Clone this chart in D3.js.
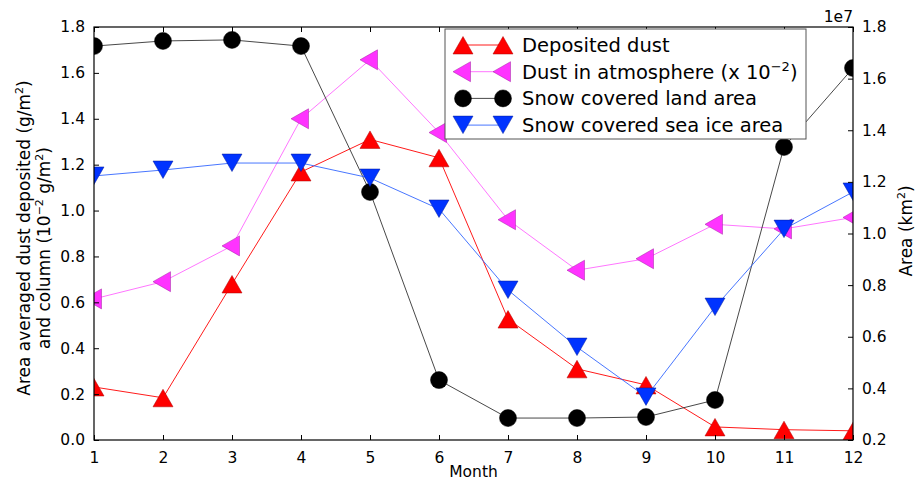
<!DOCTYPE html>
<html>
<head>
<meta charset="utf-8">
<script src="https://cdn.jsdelivr.net/npm/d3@7"></script>
<style>
body{margin:0;background:#fff}
svg{font-family:"DejaVu Sans",sans-serif}
</style>
</head>
<body>
<svg id="chart" width="922" height="482"></svg>
<script>
// months along x
var months = [1,2,3,4,5,6,7,8,9,10,11,12]
// left axis series
var deposited = [0.231,0.184,0.68,1.168,1.31,1.23,0.527,0.31,0.24,0.057,0.045,0.04]
var atmosphere = [0.615,0.69,0.846,1.40,1.657,1.34,0.96,0.74,0.79,0.94,0.92,0.97]
// right axis series (x 1e7 km2)
var landSnow = [1.726,1.746,1.75,1.726,1.161,0.432,0.285,0.285,0.289,0.355,1.335,1.641]
var seaIce = [1.223,1.246,1.273,1.273,1.215,1.095,0.781,0.56,0.367,0.715,1.017,1.161]
var leftTicks = [0.0,0.2,0.4,0.6,0.8,1.0,1.2,1.4,1.6,1.8]
var rightTicks = [0.2,0.4,0.6,0.8,1.0,1.2,1.4,1.6,1.8]

var svg = d3.select('#chart')
var L = 94, R = 853, T = 27, B = 440

var x = d3.scaleLinear().domain([1,12]).range([L,R])
var yL = d3.scaleLinear().domain([0,1.8]).range([B,T])
var yR = d3.scaleLinear().domain([0.2,1.8]).range([B,T])

var series = [
	{name:'Deposited dust', vals:deposited, y:yL, color:'#ff0000', edge:'#aa0000', marker:'up'},
	{name:'Dust in atmosphere (x 10', sup:'−2', tail:')', vals:atmosphere, y:yL, color:'#ff33ff', edge:'#a020a0', marker:'left', line:'#ff66ff'},
	{name:'Snow covered land area', vals:landSnow, y:yR, color:'#000000', edge:'#000000', marker:'circle', line:'#333333'},
	{name:'Snow covered sea ice area', vals:seaIce, y:yR, color:'#0033ff', edge:'#001a99', marker:'down', line:'#3366ff'}
]

function markerPath(kind, s){
	if(kind === 'up') return 'M0,' + (-s) + 'L' + s + ',' + (s*0.75) + 'L' + (-s) + ',' + (s*0.75) + 'Z'
	if(kind === 'down') return 'M0,' + s + 'L' + s + ',' + (-s*0.75) + 'L' + (-s) + ',' + (-s*0.75) + 'Z'
	if(kind === 'left') return 'M' + (-s) + ',0L' + (s*0.75) + ',' + (-s) + 'L' + (s*0.75) + ',' + s + 'Z'
	return null
}

function drawMarker(g, kind, cx, cy, d){
	if(kind === 'circle'){
		g.append('circle').attr('cx', cx).attr('cy', cy).attr('r', 8.5)
			.attr('fill', d.color).attr('stroke', d.edge).attr('stroke-width', 0.5)
	} else {
		g.append('path').attr('d', markerPath(kind, 10))
			.attr('transform', 'translate(' + cx + ',' + (cy + (kind === 'up' ? 1.5 : kind === 'down' ? -1.5 : 0)) + ')')
			.attr('fill', d.color).attr('stroke', d.edge).attr('stroke-width', 0.5)
	}
}

// clip so markers at edges are cut like the original
svg.append('clipPath').attr('id', 'clip')
	.append('rect').attr('x', L).attr('y', T).attr('width', R - L).attr('height', B - T)

var plot = svg.append('g').attr('clip-path', 'url(#clip)')

series.forEach(function(d){
	var line = d3.line().x(function(v, i){ return x(months[i]) }).y(function(v){ return d.y(v) })
	plot.append('path').datum(d.vals).attr('d', line)
		.attr('fill', 'none').attr('stroke', d.line || d.color).attr('stroke-width', 0.9)
	var mg = plot.append('g')
	d.vals.forEach(function(v, i){ drawMarker(mg, d.marker, x(months[i]), d.y(v), d) })
})

// frame
svg.append('rect').attr('x', L).attr('y', T).attr('width', R - L).attr('height', B - T)
	.attr('fill', 'none').attr('stroke', '#000').attr('stroke-width', 1.2)

// axes, ticks pointing inward
var axBottom = svg.append('g').attr('transform', 'translate(0,' + B + ')')
	.call(d3.axisBottom(x).tickValues(months).tickSizeInner(-5).tickSizeOuter(0).tickPadding(9).tickFormat(d3.format('d')))
var axTop = svg.append('g').attr('transform', 'translate(0,' + T + ')')
	.call(d3.axisTop(x).tickValues(months).tickSizeInner(-5).tickSizeOuter(0).tickFormat(''))
var axLeft = svg.append('g').attr('transform', 'translate(' + L + ',0)')
	.call(d3.axisLeft(yL).tickValues(leftTicks).tickSizeInner(-5).tickSizeOuter(0).tickPadding(9).tickFormat(d3.format('.1f')))
var axRight = svg.append('g').attr('transform', 'translate(' + R + ',0)')
	.call(d3.axisRight(yR).tickValues(rightTicks).tickSizeInner(-5).tickSizeOuter(0).tickPadding(9).tickFormat(d3.format('.1f')))

;[axBottom, axTop, axLeft, axRight].forEach(function(a){
	a.select('.domain').remove()
	a.attr('font-size', 15.5).attr('font-family', '"DejaVu Sans",sans-serif')
	a.selectAll('text').attr('fill', '#000')
	a.selectAll('line').attr('stroke', '#000').attr('stroke-width', 1)
})
axBottom.selectAll('text').attr('dy', '0.9em')

// labels
svg.append('text').attr('x', (L + R) / 2).attr('y', 477).attr('text-anchor', 'middle')
	.attr('font-size', 15.5).text('Month')

var yl = svg.append('text').attr('transform', 'translate(29.5,238) rotate(-90)')
	.attr('text-anchor', 'middle').attr('font-size', 17)
yl.append('tspan').text('Area averaged dust deposited (g/m')
yl.append('tspan').attr('font-size', 11).attr('dy', -7).text('2')
yl.append('tspan').attr('dy', 7).text(')')
var yl2 = svg.append('text').attr('transform', 'translate(50,248) rotate(-90)')
	.attr('text-anchor', 'middle').attr('font-size', 17)
yl2.append('tspan').text('and column (10')
yl2.append('tspan').attr('font-size', 11).attr('dy', -7).text('−2')
yl2.append('tspan').attr('dy', 7).text(' g/m')
yl2.append('tspan').attr('font-size', 11).attr('dy', -7).text('2')
yl2.append('tspan').attr('dy', 7).text(')')

var yr = svg.append('text').attr('transform', 'translate(912,231) rotate(-90)')
	.attr('text-anchor', 'middle').attr('font-size', 17)
yr.append('tspan').text('Area (km')
yr.append('tspan').attr('font-size', 11).attr('dy', -7).text('2')
yr.append('tspan').attr('dy', 7).text(')')

svg.append('text').attr('x', R).attr('y', 22).attr('text-anchor', 'end')
	.attr('font-size', 15.5).text('1e7')

// legend
var lg = svg.append('g')
lg.append('rect').attr('x', 445).attr('y', 29).attr('width', 361).attr('height', 110)
	.attr('fill', '#fff').attr('stroke', '#555').attr('stroke-width', 1)
series.forEach(function(d, i){
	var cy = 45 + i * 26.7
	lg.append('line').attr('x1', 463).attr('x2', 503).attr('y1', cy).attr('y2', cy)
		.attr('stroke', d.line || d.color).attr('stroke-width', 0.9)
	drawMarker(lg, d.marker, 463, cy, d)
	drawMarker(lg, d.marker, 503, cy, d)
	var t = lg.append('text').attr('x', 522).attr('y', cy + 7).attr('font-size', 19.5)
	t.append('tspan').text(d.name)
	if(d.sup){
		t.append('tspan').attr('font-size', 13).attr('dy', -8).text(d.sup)
		t.append('tspan').attr('dy', 8).text(d.tail)
	}
})
</script>
</body>
</html>
